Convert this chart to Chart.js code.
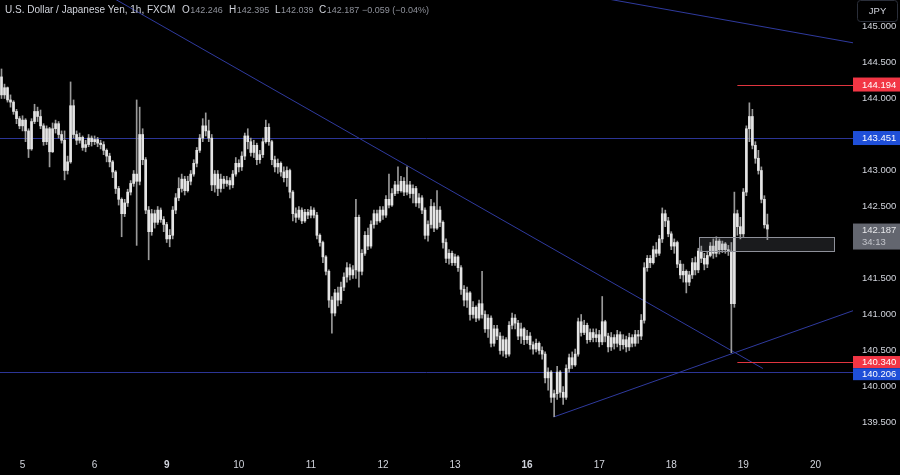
<!DOCTYPE html>
<html>
<head>
<meta charset="utf-8">
<script src="https://cdn.jsdelivr.net/npm/chart.js@4.4.1/dist/chart.umd.min.js"></script>
<style>
  html, body { margin: 0; padding: 0; background: #000; }
  canvas { display: block; }
</style>
</head>
<body>
<canvas id="chart" width="900" height="475"></canvas>
<script>
// USD/JPY 1h, FXCM - Sep 4 (late) to Sep 19

// Day labels on the time axis (first one starts after the 7 visible hours of the 4th)
const dayLabels = ['5', '6', '9', '10', '11', '12', '13', '16', '17', '18', '19', '20'];
const weekStarts = ['9', '16'];
const firstDayStart = 7;
const slotCount = 283;

const firstOpen = 144.30;

// hourly closes, one line per day
const closes = [
  144.05, 144.15, 143.98, 143.95, 143.82, 143.72, 143.62,
  143.70, 143.55, 143.30, 143.68, 143.82, 143.75, 143.62, 143.40, 143.58, 143.26, 143.58, 143.65, 143.50, 143.42, 143.00, 143.12, 143.90, 143.50, 143.42, 143.46, 143.32, 143.36, 143.45, 143.40,
  143.43, 143.38, 143.36, 143.28, 143.20, 143.12, 142.98, 142.75, 142.60, 142.40, 142.55, 142.70, 142.82, 142.95, 142.85, 143.50, 143.15, 142.45, 142.15, 142.40, 142.28, 142.45, 142.32, 142.25,
  142.05, 142.10, 142.45, 142.62, 142.75, 142.88, 142.72, 142.85, 142.95, 143.10, 143.28, 143.45, 143.62, 143.55, 143.45, 142.80, 142.95, 142.75, 142.88, 142.82, 142.86, 142.80, 142.95, 143.10,
  143.05, 143.20, 143.48, 143.40, 143.25, 143.35, 143.15, 143.22, 143.40, 143.60, 143.40, 143.15, 143.05, 143.10, 142.98, 142.90, 143.00, 142.70, 142.40, 142.35, 142.45, 142.30, 142.42, 142.38,
  142.45, 142.38, 142.10, 142.00, 141.80, 141.60, 141.20, 141.02, 141.30, 141.20, 141.38, 141.52, 141.65, 141.55, 141.62, 142.35, 141.60, 141.85, 142.10, 141.95, 142.25, 142.40, 142.30, 142.45,
  142.38, 142.60, 142.52, 142.68, 142.80, 142.72, 142.85, 142.70, 142.80, 142.68, 142.75, 142.55, 142.62, 142.45, 142.10, 142.25, 142.50, 142.20, 142.45, 142.28, 142.00, 141.78, 141.85, 141.72,
  141.80, 141.65, 141.35, 141.20, 141.30, 141.00, 141.10, 140.95, 141.15, 141.00, 140.80, 140.95, 140.60, 140.80, 140.70, 140.50, 140.65, 140.45, 140.85, 140.95, 140.88, 140.70, 140.80, 140.65,
  140.70, 140.58, 140.52, 140.60, 140.50, 140.45, 140.12, 140.20, 139.85, 139.90, 140.20, 139.92, 139.85, 140.25, 140.40, 140.30, 140.45, 140.90, 140.75, 140.85, 140.65, 140.75, 140.68, 140.72,
  140.62, 140.90, 140.70, 140.55, 140.68, 140.60, 140.72, 140.58, 140.65, 140.55, 140.68, 140.60, 140.72, 140.70, 140.92, 141.65, 141.78, 141.72, 141.90, 141.85, 142.05, 142.40, 142.30, 142.12,
  141.95, 142.00, 141.70, 141.55, 141.60, 141.45, 141.55, 141.72, 141.62, 141.88, 141.78, 141.70, 141.82, 141.95, 141.85, 142.02, 141.90, 141.98, 141.90, 141.88, 141.15, 142.40, 142.22, 142.12,
  142.70, 143.58, 143.75, 143.35, 143.17, 143.00, 142.60, 142.246, 142.187
];

const highs = [
  144.41, 144.20, 144.16, 144.05, 143.97, 143.85, 143.75,
  143.76, 143.72, 143.58, 143.72, 143.92, 143.88, 143.84, 143.65, 143.62, 143.60, 143.66, 143.70, 143.68, 143.55, 143.55, 143.20, 144.23, 143.98, 143.55, 143.52, 143.48, 143.42, 143.50, 143.48,
  143.48, 143.46, 143.42, 143.40, 143.30, 143.24, 143.14, 143.00, 142.78, 142.62, 142.60, 142.74, 142.86, 143.00, 143.98, 143.88, 143.58, 143.18, 142.50, 142.46, 142.45, 142.50, 142.48, 142.36,
  142.28, 142.18, 142.50, 142.68, 142.90, 142.95, 142.92, 142.92, 143.00, 143.15, 143.32, 143.50, 143.72, 143.80, 143.70, 143.50, 143.00, 143.00, 142.95, 142.92, 142.92, 142.90, 143.00, 143.18,
  143.15, 143.26, 143.52, 143.58, 143.45, 143.42, 143.38, 143.28, 143.45, 143.70, 143.65, 143.42, 143.20, 143.16, 143.12, 143.05, 143.05, 143.02, 142.72, 142.48, 142.50, 142.48, 142.46, 142.46,
  142.50, 142.48, 142.42, 142.12, 142.02, 141.82, 141.62, 141.25, 141.35, 141.38, 141.45, 141.58, 141.72, 141.70, 141.68, 142.60, 142.38, 141.90, 142.15, 142.20, 142.30, 142.45, 142.45, 142.50,
  142.50, 142.65, 142.95, 142.75, 142.85, 143.05, 142.92, 142.90, 143.05, 142.85, 142.80, 142.78, 142.68, 142.65, 142.48, 142.30, 142.60, 142.55, 142.72, 142.50, 142.30, 142.05, 141.90, 141.88,
  141.84, 141.82, 141.68, 141.40, 141.38, 141.32, 141.18, 141.12, 141.20, 141.60, 141.05, 141.00, 140.98, 140.85, 140.85, 140.75, 140.70, 140.68, 140.90, 141.02, 141.00, 140.92, 140.88, 140.82,
  140.78, 140.75, 140.62, 140.66, 140.62, 140.55, 140.48, 140.26, 140.22, 139.95, 140.28, 140.22, 140.00, 140.30, 140.45, 140.48, 140.52, 140.95, 141.00, 140.92, 140.88, 140.80, 140.80, 140.80,
  140.78, 141.25, 140.92, 140.74, 140.75, 140.72, 140.78, 140.76, 140.72, 140.70, 140.74, 140.72, 140.78, 140.78, 141.00, 141.72, 141.82, 141.82, 141.95, 142.00, 142.10, 142.48, 142.45, 142.35,
  142.15, 142.05, 142.02, 141.75, 141.70, 141.62, 141.60, 141.78, 141.80, 141.92, 141.95, 141.85, 141.88, 142.00, 142.05, 142.08, 142.05, 142.02, 142.00, 141.96, 142.00, 142.70, 142.45, 142.35,
  142.75, 143.62, 143.94, 143.85, 143.40, 143.28, 143.05, 142.65, 142.395
];

const lows = [
  144.00, 144.00, 143.95, 143.88, 143.78, 143.65, 143.58,
  143.55, 143.40, 143.18, 143.28, 143.65, 143.68, 143.58, 143.35, 143.36, 143.05, 143.25, 143.52, 143.45, 143.38, 142.87, 142.95, 143.10, 143.45, 143.36, 143.38, 143.28, 143.26, 143.33, 143.34,
  143.36, 143.33, 143.30, 143.22, 143.12, 143.05, 142.90, 142.68, 142.52, 142.08, 142.36, 142.50, 142.66, 142.78, 141.96, 142.80, 143.08, 142.40, 141.76, 142.10, 142.20, 142.25, 142.28, 142.15,
  142.00, 141.94, 142.05, 142.40, 142.58, 142.70, 142.66, 142.70, 142.80, 142.92, 143.05, 143.25, 143.40, 143.48, 143.40, 142.72, 142.70, 142.65, 142.70, 142.75, 142.78, 142.74, 142.76, 142.92,
  142.98, 143.00, 143.15, 143.30, 143.20, 143.18, 143.08, 143.10, 143.18, 143.38, 143.35, 143.08, 142.98, 142.96, 142.92, 142.84, 142.78, 142.62, 142.30, 142.28, 142.32, 142.26, 142.28, 142.33,
  142.34, 142.34, 142.05, 141.95, 141.72, 141.55, 141.10, 140.74, 140.98, 141.12, 141.15, 141.33, 141.45, 141.48, 141.50, 141.50, 141.38, 141.55, 141.82, 141.90, 141.92, 142.20, 142.25, 142.28,
  142.32, 142.35, 142.48, 142.50, 142.65, 142.68, 142.70, 142.65, 142.66, 142.62, 142.55, 142.50, 142.48, 142.40, 142.05, 142.02, 142.20, 142.15, 142.18, 142.22, 141.92, 141.72, 141.70, 141.68,
  141.68, 141.60, 141.28, 141.12, 141.10, 140.92, 140.95, 140.90, 140.92, 140.95, 140.75, 140.68, 140.55, 140.56, 140.65, 140.45, 140.42, 140.40, 140.42, 140.80, 140.80, 140.65, 140.60, 140.58,
  140.60, 140.52, 140.45, 140.48, 140.45, 140.38, 140.05, 139.95, 139.78, 139.58, 139.82, 139.85, 139.75, 139.82, 140.20, 140.25, 140.28, 140.42, 140.70, 140.72, 140.60, 140.62, 140.62, 140.62,
  140.55, 140.58, 140.62, 140.48, 140.50, 140.52, 140.55, 140.50, 140.52, 140.48, 140.50, 140.55, 140.56, 140.60, 140.65, 140.88, 141.60, 141.65, 141.70, 141.80, 141.82, 142.00, 142.22, 142.08,
  141.90, 141.85, 141.65, 141.50, 141.45, 141.30, 141.40, 141.50, 141.55, 141.58, 141.72, 141.62, 141.65, 141.80, 141.78, 141.80, 141.84, 141.86, 141.85, 141.82, 140.47, 141.10, 142.10, 142.05,
  142.08, 142.65, 143.40, 143.30, 143.10, 142.95, 142.55, 142.20, 142.039
];

// Drawings (in bar index / price units)
const blueLevels = [143.451, 140.206];
const redLevels = [144.194, 140.340];
const redLevelStart = 245;
const trendLines = [
  [[32.8, 145.50], [253.5, 140.25]],
  [[199.5, 145.40], [284, 144.77]],
  [[183.8, 139.576], [284, 141.06]]
];
const zone = { from: 232.2, to: 277.3, top: 142.076, bottom: 141.882 };

const header = {
  title: 'U.S. Dollar / Japanese Yen, 1h, FXCM',
  open: '142.246', high: '142.395', low: '142.039', close: '142.187',
  change: '\u22120.059 (\u22120.04%)',
  countdown: '34:13'
};

// Build chart data
const labels = [];
for (let i = 0; i < slotCount; i++) {
  const k = i - firstDayStart;
  labels.push(k >= 0 && k % 24 === 0 ? (dayLabels[k / 24] || '') : '');
}
const opens = closes.map((c, i) => (i === 0 ? firstOpen : closes[i - 1]));
const bodies = closes.map((c, i) => [opens[i], c]);
const wicks = closes.map((c, i) => [lows[i], highs[i]]);

const AXIS_FONT = '"Liberation Sans", Arial, sans-serif';

function noPadding(scale) {
  scale.paddingLeft = 0;
  scale.paddingRight = 0;
  scale.paddingTop = 0;
  scale.paddingBottom = 0;
}

function priceTag(ctx, y, text, bg, h) {
  ctx.fillStyle = bg;
  ctx.fillRect(853, y - h / 2, 47, h);
  ctx.fillStyle = '#ffffff';
  ctx.font = '9.5px ' + AXIS_FONT;
  ctx.textAlign = 'left';
  ctx.textBaseline = 'middle';
  ctx.fillText(text, 862, y + 0.5);
}

const overlay = {
  id: 'overlay',
  beforeDatasetsDraw(chart) {
    const { ctx, chartArea } = chart;
    const x = chart.scales.x, y = chart.scales.y;
    ctx.save();
    ctx.beginPath();
    ctx.rect(0, 0, chartArea.right + 3, chartArea.bottom);
    ctx.clip();
    ctx.lineWidth = 1;

    // horizontal levels
    ctx.strokeStyle = '#2c3596';
    blueLevels.forEach(p => {
      const py = Math.round(y.getPixelForValue(p)) + 0.5;
      ctx.beginPath();
      ctx.moveTo(0, py);
      ctx.lineTo(chartArea.right + 3, py);
      ctx.stroke();
    });

    // trend lines
    ctx.strokeStyle = '#2f3a9e';
    trendLines.forEach(([a, b]) => {
      ctx.beginPath();
      ctx.moveTo(x.getPixelForValue(a[0]), y.getPixelForValue(a[1]));
      ctx.lineTo(x.getPixelForValue(b[0]), y.getPixelForValue(b[1]));
      ctx.stroke();
    });

    // red levels
    ctx.strokeStyle = '#e0353f';
    redLevels.forEach(p => {
      const py = Math.round(y.getPixelForValue(p)) + 0.5;
      ctx.beginPath();
      ctx.moveTo(x.getPixelForValue(redLevelStart), py);
      ctx.lineTo(chartArea.right + 3, py);
      ctx.stroke();
    });
    ctx.restore();
  },
  afterDatasetsDraw(chart) {
    const { ctx } = chart;
    const x = chart.scales.x, y = chart.scales.y;
    const x0 = Math.round(x.getPixelForValue(zone.from)) + 0.5;
    const x1 = Math.round(x.getPixelForValue(zone.to)) + 0.5;
    const y0 = Math.round(y.getPixelForValue(zone.top)) + 0.5;
    const y1 = Math.round(y.getPixelForValue(zone.bottom)) + 0.5;
    ctx.save();
    ctx.fillStyle = 'rgba(120, 123, 134, 0.22)';
    ctx.fillRect(x0, y0, x1 - x0, y1 - y0);
    ctx.strokeStyle = '#8e9099';
    ctx.lineWidth = 1;
    ctx.strokeRect(x0, y0, x1 - x0, y1 - y0);
    ctx.restore();
  },
  afterDraw(chart) {
    const { ctx } = chart;
    const y = chart.scales.y;
    ctx.save();

    // header
    ctx.textBaseline = 'middle';
    ctx.textAlign = 'left';
    ctx.font = '10px ' + AXIS_FONT;
    ctx.fillStyle = '#d1d4dc';
    ctx.fillText(header.title, 5, 10.5);
    const parts = [
      ['O', header.open, 182],
      ['H', header.high, 229],
      ['L', header.low, 275],
      ['C', header.close, 319]
    ];
    parts.forEach(([k, v, px]) => {
      ctx.font = '10px ' + AXIS_FONT;
      ctx.fillStyle = '#d1d4dc';
      ctx.fillText(k, px, 10.5);
      const w = ctx.measureText(k).width;
      ctx.font = '9px ' + AXIS_FONT;
      ctx.fillStyle = '#8f929b';
      ctx.fillText(v, px + w + 0.5, 10.5);
    });
    ctx.fillText(header.change, 362, 10.5);

    // price tags
    priceTag(ctx, y.getPixelForValue(redLevels[0]), redLevels[0].toFixed(3), '#f23645', 14);
    priceTag(ctx, y.getPixelForValue(blueLevels[0]), blueLevels[0].toFixed(3), '#1f4fd8', 14);
    priceTag(ctx, y.getPixelForValue(redLevels[1]), redLevels[1].toFixed(3), '#f23645', 12);
    priceTag(ctx, y.getPixelForValue(blueLevels[1]) + 2.5, blueLevels[1].toFixed(3), '#1f4fd8', 12);

    // last price tag with countdown
    const lastY = y.getPixelForValue(closes[closes.length - 1]);
    ctx.fillStyle = '#63666f';
    ctx.fillRect(853, lastY - 5.5, 47, 26);
    ctx.fillStyle = '#e6e7ea';
    ctx.font = '9.5px ' + AXIS_FONT;
    ctx.fillText(header.close, 862, lastY + 1.5);
    ctx.fillStyle = '#c3c5cb';
    ctx.fillText(header.countdown, 862, lastY + 13);

    // currency button
    ctx.fillStyle = '#000';
    ctx.strokeStyle = '#2a2e39';
    ctx.lineWidth = 1;
    ctx.beginPath();
    ctx.roundRect(857.5, 0.5, 40, 21, 3);
    ctx.fill();
    ctx.stroke();
    ctx.fillStyle = '#d1d4dc';
    ctx.textAlign = 'center';
    ctx.font = '9.5px ' + AXIS_FONT;
    ctx.fillText('JPY', 877.5, 11);
    ctx.restore();
  }
};

new Chart(document.getElementById('chart').getContext('2d'), {
  type: 'bar',
  data: {
    labels: labels,
    datasets: [
      {
        label: 'body',
        data: bodies,
        backgroundColor: '#e4e4e4',
        barThickness: 2,
        minBarLength: 1,
        grouped: false,
        borderWidth: 0,
        order: 0
      },
      {
        label: 'wick',
        data: wicks,
        backgroundColor: '#9a9a9a',
        barThickness: 1,
        grouped: false,
        borderWidth: 0,
        order: 1
      }
    ]
  },
  options: {
    responsive: false,
    animation: false,
    layout: { padding: 0 },
    plugins: {
      legend: { display: false },
      tooltip: { enabled: false }
    },
    scales: {
      x: {
        type: 'category',
        offset: true,
        grid: { display: false, drawTicks: false },
        border: { display: false },
        afterFit: function(scale) { scale.height = 25; noPadding(scale); },
        ticks: {
          autoSkip: false,
          maxRotation: 0,
          padding: 9,
          color: '#d1d4dc',
          font: function(ctx) {
            const lbl = ctx.tick ? ctx.tick.label : '';
            return { family: AXIS_FONT, size: 10, weight: weekStarts.includes(lbl) ? 'bold' : 'normal' };
          }
        }
      },
      y: {
        position: 'right',
        min: 145 + 26.5 / 72 - 6.25,
        max: 145 + 26.5 / 72,
        grid: { display: false, drawTicks: false },
        border: { display: false },
        afterFit: function(scale) { scale.width = 50; noPadding(scale); },
        ticks: {
          stepSize: 0.5,
          includeBounds: false,
          padding: 12,
          color: '#d1d4dc',
          font: { family: AXIS_FONT, size: 9.5 },
          callback: function(value) { return Number(value).toFixed(3); }
        }
      }
    }
  },
  plugins: [overlay]
});
</script>
</body>
</html>
